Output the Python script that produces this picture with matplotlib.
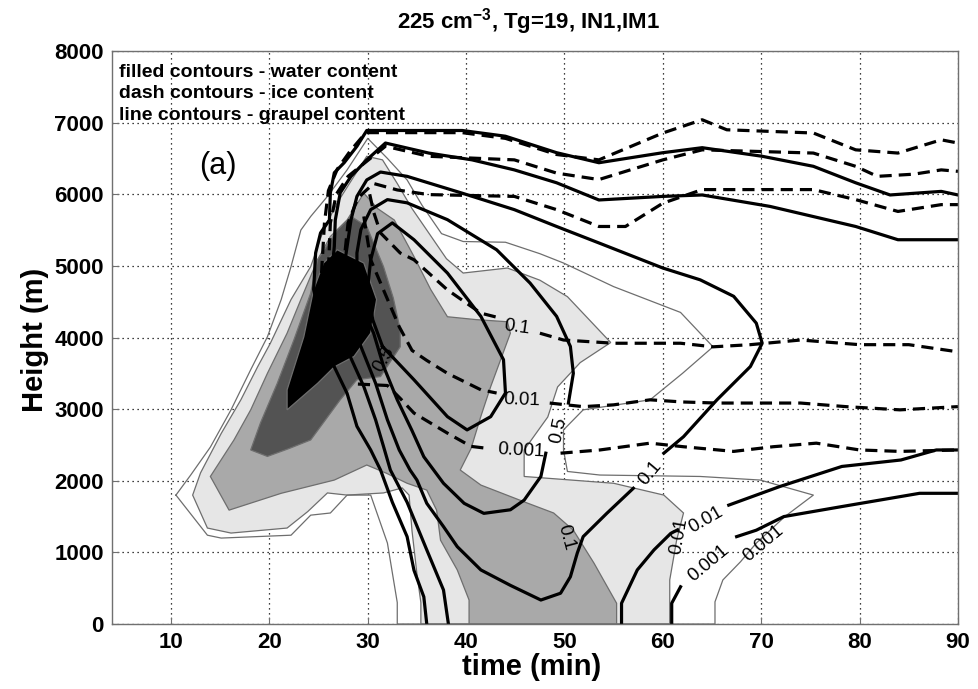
import matplotlib
matplotlib.use("Agg")
import matplotlib.pyplot as plt

plt.rcParams['font.family'] = ['Liberation Sans', 'DejaVu Sans']
plt.rcParams['mathtext.fontset'] = 'custom'
plt.rcParams['mathtext.rm'] = 'Liberation Sans:bold'
plt.rcParams['mathtext.it'] = 'Liberation Sans:bold'
plt.rcParams['mathtext.bf'] = 'Liberation Sans:bold'

# all points are (time in min, height in m)

# water content, filled contours (0.001 is outline only)
water_0001 = [(10.5,1800),(12.0,2080),(14.0,2470),(16.1,2990),(18.1,3550),(19.8,4010),(21.2,4530),
              (22.2,4990),(23.2,5500),(24.2,5690),(25.9,5970),(27.9,6340),(30.0,6780),(32.0,6500),
              (34.0,6200),(35.5,5850),(37.5,5450),(39.7,5340),(44.0,5330),(47.5,5170),(49.9,5040),
              (55.0,4710),(61.8,4350),(65.1,3870),(62.0,3500),(58.7,3130),(51.9,2990),(49.9,2710),
              (49.9,2430),(50.3,2130),(53.6,2080),(63.8,2060),(69.9,2010),(75.3,1800),(72.4,1500),
              (69.5,1130),(67.9,870),(66.1,615),(65.3,310),(65.3,0),(33.0,0),(33.0,300),(32.0,1130),
              (30.3,1800),(27.9,1800),(26.2,1550),(24.2,1520),(22.2,1240),(15.1,1200),(13.7,1240),
              (10.5,1800)]
water_001 = [(12.2,1800),(13.0,2110),(15.1,2660),(17.1,3130),(18.8,3590),(20.1,3920),(22.2,4530),
             (24.2,4990),(25.5,5500),(26.9,5880),(28.6,6250),(29.9,6530),(31.5,6480),(33.0,6150),
             (34.5,5800),(36.5,5400),(38.0,5100),(39.7,4900),(44.2,4970),(47.5,4800),(50.3,4570),
             (54.7,3930),(51.6,3650),(49.3,3310),(48.3,2890),(45.9,2430),(45.9,2060),(55.0,1965),
             (60.1,1800),(62.1,1550),(61.4,1170),(60.7,615),(60.7,0),(35.4,0),(35.4,300),(35.0,700),
             (34.5,1300),(34.2,1800),(33.5,1900),(31.6,1830),(27.9,1800),(25.9,1830),(23.9,1570),
             (21.8,1340),(16.1,1270),(13.7,1340),(12.2,1800)]
water_01 = [(14.0,2060),(16.4,2570),(18.1,2990),(19.8,3500),(21.8,4060),(23.2,4530),(24.9,5085),
            (26.2,5410),(27.9,5640),(29.6,6015),(31.0,5800),(32.7,5640),(34.7,5130),(36.4,4670),
            (38.1,4290),(41.0,4250),(44.2,4220),(44.5,4060),(42.5,3315),(41.5,2900),(40.5,2450),
            (39.4,2150),(41.5,1940),(46.2,1690),(48.9,1550),(50.9,1310),(53.0,850),(55.3,290),
            (55.3,0),(40.3,0),(40.3,335),(39.1,755),(37.4,1170),(37.0,1590),(36.0,1870),(34.0,1965),
            (31.9,2105),(29.9,2220),(26.6,2010),(21.2,1825),(15.9,1590),(14.0,2060)]
water_05 = [(18.1,2430),(19.8,2340),(22.0,2450),(24.2,2570),(27.2,3130),(28.9,3410),(31.3,3455),
            (33.3,3870),(33.3,4110),(32.6,4550),(31.6,4990),(29.9,5550),(28.3,5690),(26.9,5500),
            (24.9,5085),(24.2,4620),(22.5,3970),(20.8,3360),(19.1,2810),(18.1,2430)]
water_1 = [(21.8,2990),(24.9,3360),(26.6,3590),(28.6,3735),(30.3,4060),(30.9,4530),(29.6,5040),
           (26.9,5225),(25.5,5040),(24.5,4670),(23.5,4010),(21.8,3270),(21.8,2990)]

# graupel content, solid lines (pieces split at the labels)
graupel_0001 = [(36.0,0),(35.7,380),(34.7,750),(34.0,1220),(32.5,1700),(31.3,2150),(30.3,2430),
                (28.9,2760),(27.9,3220),(26.6,3590),(25.5,4100),(24.5,4670),(24.7,5180),(25.2,5460),
                (26.1,5640),(26.2,6020),(26.6,6300),(27.6,6440),(28.9,6670),(29.9,6890),(39.6,6890),
                (44.0,6810),(49.2,6580),(53.5,6440),(60.0,6580),(64.0,6650),(70.1,6530),(75.3,6390),
                (79.6,6160),(83.1,5990),(88.3,6040),(90.0,5990)]
graupel_0001_low1 = [(60.9,0),(60.9,290),(61.8,520)]
graupel_0001_low2 = [(67.5,1220),(69.5,1310),(72.3,1500),(78.2,1640),(86.1,1825),(90.0,1825)]
graupel_001 = [(38.2,0),(37.7,475),(36.0,1035),(34.0,1700),(32.3,2150),(31.6,2480),(30.8,2850),
               (29.6,3315),(27.9,3830),(26.8,4400),(26.4,4990),(26.6,5270),(26.7,5640),(27.2,6020),
               (28.3,6250),(29.9,6480),(31.8,6715),(36.2,6575),(40.6,6480),(44.9,6340),(49.2,6160),
               (53.5,5920),(60.0,5970),(64.0,5990),(70.9,5830),(79.6,5550),(83.9,5365),(90.0,5365)]
graupel_001_low1 = [(55.8,0),(55.8,290),(57.4,755),(59.1,1035),(60.8,1265),(61.5,1315)]
graupel_001_low2 = [(66.7,1660),(71.9,1920),(78.2,2200),(84.2,2290),(87.8,2430),(90.0,2430)]
graupel_01 = [(60.1,2385),(62.1,2615),(65.5,3130),(68.9,3595),(70.1,3920),(69.5,4200),(67.2,4575),
              (63.8,4805),(60.0,4970),(53.5,5320),(49.2,5550),(44.9,5785),(39.6,6015),(34.0,6250),
              (31.3,6310),(29.9,6200),(28.9,5970),(28.3,5645),(27.9,5270),(27.6,4990),(28.0,4400),
              (29.3,3875),(30.8,3360),(32.0,2850),(33.2,2430),(34.3,2150),(35.0,2010),(36.0,1685),
              (37.7,1360),(39.1,1080),(41.5,755),(44.5,540),(47.6,335),(49.6,430),(50.6,660),
              (51.3,990),(51.9,1220),(54.3,1545),(57.0,1895)]
graupel_05 = [(50.4,3085),(50.9,3500),(50.6,3875),(49.2,4295),(46.5,4760),(43.1,5225),(38.1,5645),
              (34.0,5880),(32.0,5925),(30.3,5785),(29.3,5505),(28.9,5180),(28.9,4805),(29.5,4400),
              (30.6,4060),(31.6,3600),(33.0,3130),(34.5,2700),(35.7,2335),(37.7,1965),(39.8,1685),
              (41.8,1545),(44.5,1595),(45.9,1730),(47.6,2060),(48.1,2385)]
graupel_1 = [(31.5,3875),(34.7,3410),(38.1,2895),(40.1,2710),(42.5,2895),(44.0,3225),(43.8,3690),
             (41.5,4295),(38.1,4900),(34.7,5365),(32.5,5600),(31.0,5450),(30.3,5085),(30.0,4710),
             (30.5,4250),(31.5,3875)]

# ice content, dashed lines
ice_top1 = [(25.3,4900),(25.6,5600),(26.0,6050),(26.9,6350),(28.2,6600),(29.8,6860),(39.6,6860),
            (44.0,6780),(49.2,6555),(53.5,6480),(60.0,6855),(64.0,7040),(66.5,6900),(75.3,6855),
            (79.6,6620),(83.9,6575),(88.3,6760),(90.0,6715)]
ice_top2 = [(26.0,4950),(26.2,5600),(26.8,6000),(28.0,6250),(29.8,6450),(31.8,6670),(36.2,6530),
            (44.9,6480),(49.2,6295),(53.5,6205),(60.0,6480),(64.0,6620),(75.3,6575),(79.6,6390),
            (81.8,6250),(85.5,6280),(88.3,6340),(90.0,6320)]
ice_top3 = [(27.5,4950),(28.0,5600),(29.0,5950),(30.6,6150),(33.0,6060),(36.2,5995),(44.9,5970),
            (49.2,5785),(53.5,5550),(56.2,5550),(60.0,5875),(64.0,6065),(75.3,6065),(79.6,5925),
            (83.9,5760),(88.3,5855),(90.0,5855)]
ice_01_left = [(30.2,6000),(30.6,5750),(31.3,5460),(33.3,5180),(34.7,5085),(38.1,4665),(41.5,4340),
               (43.5,4270)]
ice_01_right = [(47.5,4060),(49.9,3965),(55.0,3920),(61.8,3920),(65.1,3870),(68.9,3900),(74.0,3965),
                (80.0,3900),(85.0,3900),(90.0,3800)]
ice_001_left = [(29.6,5690),(30.3,5085),(31.8,4600),(33.2,4150),(34.5,3820),(36.0,3680),(38.1,3500),
                (41.5,3270),(43.1,3225)]
ice_001_right = [(48.5,3085),(51.9,3035),(55.0,3060),(58.7,3130),(62.0,3100),(65.5,3085),(74.0,3085),
                 (78.6,3035),(84.1,2990),(90.0,3035)]
ice_0001_left = [(29.0,3350),(32.0,3330),(33.3,3150),(34.7,2945),(36.7,2780),(38.1,2665),(40.5,2480),
                 (42.3,2450)]
ice_0001_right = [(49.6,2385),(53.6,2430),(58.7,2525),(62.1,2475),(67.2,2410),(71.2,2475),(75.6,2525),
                  (80.0,2430),(84.1,2410),(90.0,2430)]

# contour labels: text, time, height, angle
clabels = [("0.1", 45.2, 4140, -8), ("0.01", 45.7, 3130, -2), ("0.001", 45.6, 2420, -3),
           ("0.5", 49.4, 2700, 78), ("0.1", 58.7, 2110, 50), ("0.01", 64.4, 1455, 30),
           ("0.001", 64.6, 850, 40), ("0.001", 70.2, 1130, 40), ("0.01", 61.6, 1220, 80),
           ("0.1", 50.2, 1215, -75), ("0.5", 31.6, 3690, 60)]

xticks = [10, 20, 30, 40, 50, 60, 70, 80, 90]
yticks = [0, 1000, 2000, 3000, 4000, 5000, 6000, 7000, 8000]
legend_lines = ["filled contours - water content",
                "dash contours - ice content",
                "line contours - graupel content"]


def xy(pts):
    return [p[0] for p in pts], [p[1] for p in pts]


fig = plt.figure(figsize=(9.79, 6.89), dpi=100)
ax = fig.add_axes([0.1144, 0.0943, 0.8641, 0.8317])

edge = '#6e6e6e'
fills = [(water_001, '#e6e6e6'), (water_01, '#a9a9a9'), (water_05, '#535353'), (water_1, '#000000')]
for i, (poly, col) in enumerate(fills):
    t, h = xy(poly)
    ax.fill(t, h, facecolor=col, edgecolor=edge, lw=0.9, zorder=1 + i)
t, h = xy(water_0001)
ax.plot(t, h, color=edge, lw=0.9, zorder=5)

for line in [graupel_0001, graupel_0001_low1, graupel_0001_low2, graupel_001, graupel_001_low1,
             graupel_001_low2, graupel_01, graupel_05, graupel_1]:
    t, h = xy(line)
    ax.plot(t, h, color='k', lw=2.3, zorder=6, solid_joinstyle='round')

for line in [ice_top1, ice_top2, ice_top3, ice_01_left, ice_01_right, ice_001_left, ice_001_right,
             ice_0001_left, ice_0001_right]:
    t, h = xy(line)
    ax.plot(t, h, color='k', lw=2.3, ls=(0, (3.8, 2.2)), zorder=6)

for s, t0, h0, ang in clabels:
    ax.text(t0, h0, s, rotation=ang, ha='center', va='center', fontsize=13.5,
            rotation_mode='anchor', zorder=7)

ax.set_xlim(4, 90)
ax.set_ylim(0, 8000)
ax.set_xticks(xticks)
ax.set_yticks(yticks)
ax.set_xticklabels([str(v) for v in xticks], fontsize=16, fontweight='bold')
ax.set_yticklabels([str(v) for v in yticks], fontsize=16, fontweight='bold')
ax.tick_params(direction='in', length=5, color='#707070', pad=6)
ax.set_axisbelow(True)
ax.grid(True, ls=(0, (1, 3)), color='k', lw=0.9)
for sp in ax.spines.values():
    sp.set_color('#707070')
    sp.set_linewidth(1.0)
    sp.set_zorder(8)

for i, s in enumerate(legend_lines):
    ax.text(0.008, 0.962 - i * 0.037, s, transform=ax.transAxes, fontsize=14,
            fontweight='bold', va='center', ha='left', zorder=9)
ax.text(14.8, 6400, "(a)", fontsize=22, ha='center', va='center')

fig.text(528 / 979, 1 - 22 / 689, r"225 cm$^{-3}$, Tg=19, IN1,IM1", fontsize=16,
         fontweight='bold', ha='center', va='center')
fig.text(532 / 979, 1 - 667 / 689, "time (min)", fontsize=21, fontweight='bold',
         ha='center', va='center')
fig.text(35 / 979, 1 - 340 / 689, "Height (m)", fontsize=21, fontweight='bold',
         ha='center', va='center', rotation=90)

fig.savefig("out.png", dpi=100)
